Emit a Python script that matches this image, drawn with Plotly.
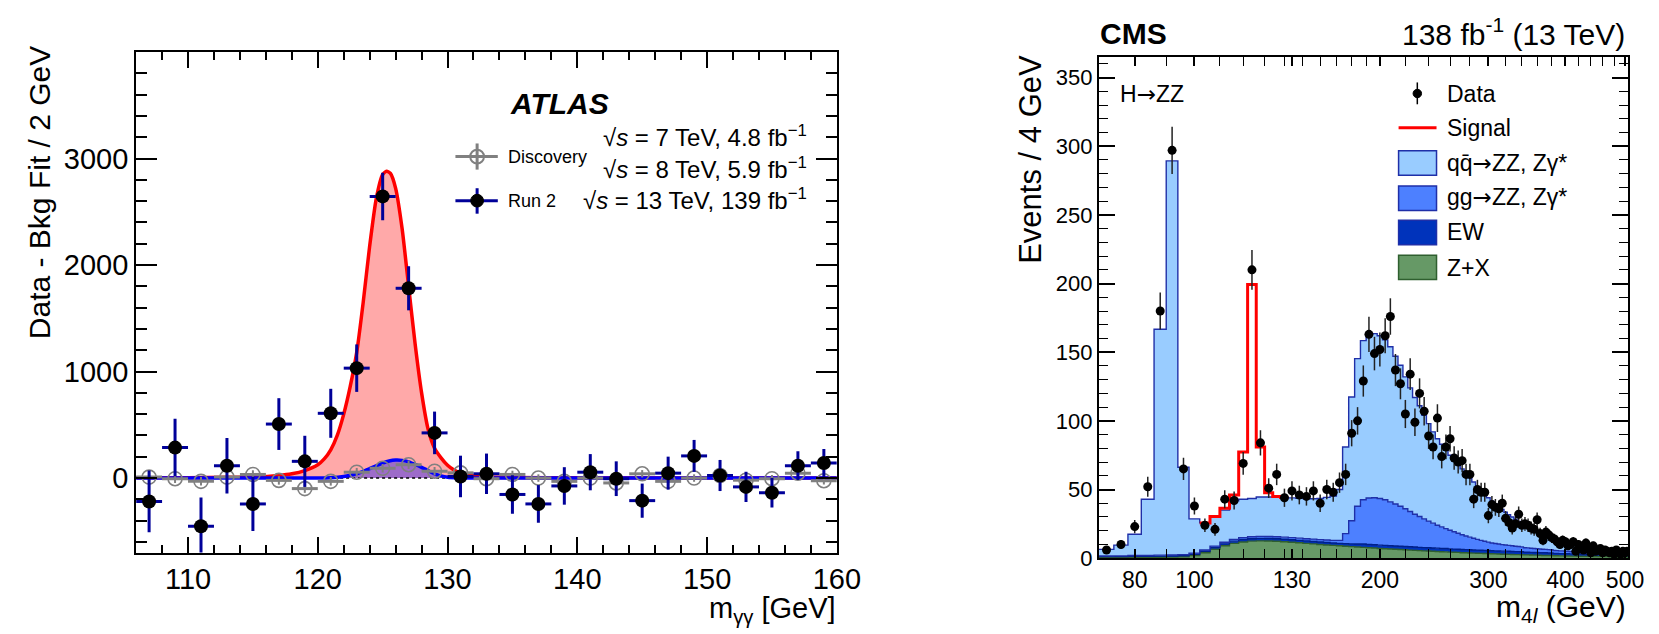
import numpy as np
import plotly.graph_objects as go

W, H = 1659, 634
FONT = "Liberation Sans, Arial, Helvetica, sans-serif"
ARROW = "<span style='font-family:DejaVu Sans'>→</span>"


def fx(px):
    return px / W


def fy(py):
    return 1 - py / H


# ---------------- ATLAS (left) : H -> gamma gamma ----------------
atlas_mass = [107, 109, 111, 113, 115, 117, 119, 121, 123, 125, 127, 129, 131, 133,
              135, 137, 139, 141, 143, 145, 147, 149, 151, 153, 155, 157, 159]
run2_y = [-220, 286, -452, 116, -243, 507, 157, 608, 1032, 2645, 1782, 424, 15, 40,
          -154, -243, -74, 55, -6, -212, 46, 208, 24, -83, -138, 116, 141]
run2_err = [290, 270, 270, 260, 255, 243, 240, 230, 223, 223, 207, 200, 195, 190,
            180, 177, 176, 170, 163, 160, 155, 150, 146, 142, 138, 135, 131]
disc_y = [9, -6, -31, 9, 34, -22, -99, -31, 55, 92, 125, 64, 49, -6,
          34, 0, -31, 0, -46, 40, -31, 0, 24, -20, -6, 46, -25]
disc_err = [40, 40, 40, 40, 40, 40, 40, 40, 40, 40, 40, 40, 40, 40,
            35, 35, 35, 35, 35, 35, 35, 35, 35, 35, 35, 35, 35]

# Run 2 signal + background fit (background subtracted)
run2_fit_x = [106, 110, 113, 115, 117, 118, 119, 120, 120.5, 121, 121.5, 122, 122.5, 123,
              123.5, 124, 124.5, 125, 125.3, 125.6, 126, 126.5, 127, 127.5, 128, 128.5,
              129, 129.5, 130, 130.5, 131, 132, 133, 135, 140, 160]
run2_fit_y = [2, 4, 7, 10, 25, 40, 70, 125, 180, 265, 400, 600, 860, 1180,
              1650, 2180, 2620, 2850, 2881, 2860, 2720, 2340, 1800, 1260, 800, 460,
              280, 190, 120, 75, 45, 20, 10, 5, 2, 0]
# Discovery fit
disc_fit_x = [106, 120, 121, 122, 123, 123.5, 124, 124.5, 125, 125.5, 126, 126.5, 127,
              127.5, 128, 128.5, 129, 129.5, 130, 131, 132, 160]
disc_fit_y = [0, 0, 3, 15, 40, 62, 88, 115, 140, 160, 169, 166, 152,
              128, 101, 70, 40, 20, 8, 2, 0, 0]
atlas_xrange = [106, 160]
atlas_yrange = [-700, 4000]
bkg_level = [0, 0]

# ---------------- CMS (right) : H -> ZZ -> 4l ----------------
cms_edges = list(range(70, 507, 4))        # 4 GeV bins, 70-506 GeV
cms_centers = [e + 2 for e in cms_edges[:-1]]

cms_data = [6, 10, 23, 52, 180, 297, 65, 38, 24, 21, 43, 42, 69, 210, 84, 51, 61, 44, 49, 46,
            45, 49, 40, 50, 48,
            55, 61, 91, 100, 129, 163, 149, 152, 162, 176, 137, 127, 105, 134, 99, 120, 107,
            89, 81, 102, 74, 81, 87, 73, 70, 71, 61, 61, 43, 50, 48, 48, 31,
            39, 37, 36, 40, 29, 26, 22, 25, 32, 24, 25, 24, 22, 21, 28, 18, 13, 19, 17, 15,
            14, 12, 10, 13, 12, 9, 10, 12, 5, 10, 8, 6, 11, 7, 4, 9, 5, 6, 7, 4,
            6, 5, 4, 5, 3, 6, 4, 3, 5, 4, 5]

cms_bkg_total = [6.4, 9.5, 17.4, 42.9, 166.7, 289.3, 66.2, 28.6, 25.7, 29.8, 35.0, 41.7, 42.9,
                 43.5, 44.5, 44.6, 44.5, 44.2, 43.9, 43.6, 43.4, 43.3, 43.5, 44.3, 45.3,
                 50, 81, 117.4, 145.3, 158.4, 163, 163.5, 162, 159, 154, 147, 140.5, 132, 124,
                 117, 111, 104, 98, 92, 87, 83, 79, 75, 71, 68, 65, 61.5, 58.5, 55.5, 52, 49,
                 46.5, 44,
                 41.5, 39.5, 37.5, 35.5, 33.5, 31.7, 30, 28.3, 26.7, 25.2, 23.8, 22.5, 21.2, 20,
                 18.9, 17.8, 16.8, 15.9, 15, 14.2, 13.4, 12.7, 12, 11.4, 11.0, 10.5, 10.0, 9.6,
                 9.2, 8.8, 8.4, 8.1, 7.8, 7.5, 7.2, 6.9, 6.7, 6.4, 6.2, 6.0, 5.8, 5.6, 5.4, 5.2,
                 5.1, 4.9, 4.8, 4.6, 4.5, 4.4, 4.3]

cms_zx = [0.3, 0.4, 0.5, 0.6, 0.7, 0.8, 1.0, 2.0, 4.0, 6.5, 9.0, 10.8, 11.8, 12.4, 12.6, 12.5,
          12.3, 12.0, 11.6, 11.2, 10.8, 10.4, 10.0, 9.6, 9.3,
          9.0, 8.7, 8.4, 8.1, 7.9, 7.6, 7.4, 7.1, 6.9, 6.7, 6.5, 6.3, 6.1, 5.9, 5.7, 5.5, 5.3,
          5.2, 5.0, 4.9, 4.7, 4.6, 4.4, 4.3, 4.2, 4.0, 3.9, 3.8, 3.7, 3.6, 3.5, 3.4, 3.3,
          3.2, 3.1, 3.0, 2.9, 2.9, 2.8, 2.7, 2.6, 2.6, 2.5, 2.4, 2.4, 2.3, 2.2, 2.2, 2.1, 2.0,
          2.0, 1.9, 1.9, 1.8, 1.8, 1.7, 1.7, 1.6, 1.6, 1.5, 1.5, 1.5, 1.4, 1.4, 1.4, 1.3, 1.3,
          1.3, 1.2, 1.2, 1.2, 1.1, 1.1, 1.1, 1.1, 1.0, 1.0, 1.0, 1.0, 0.9, 0.9, 0.9, 0.9, 0.9]

cms_ew = ([0.8] * 8 + [1.0, 1.2, 1.4, 1.6] + [1.8] * 13 +
          [1.8, 1.9, 2.0, 2.2] + [2.4] * 19 + [2.3] * 10 +
          [2.2] * 10 + [1.9] * 10 + [1.6] * 10 + [1.3] * 10 + [1.1] * 11)

cms_gg = [0.5, 0.5, 0.6, 0.6, 0.7, 0.7, 0.8, 0.9, 1.0, 1.1, 1.2, 1.3, 1.4, 1.4, 1.5, 1.5, 1.5,
          1.5, 1.6, 1.6, 1.6, 1.7, 1.7, 1.8, 1.9,
          2.2, 7.3, 16.9, 27.5, 32.2, 33.8, 34.2, 34.0, 33.2, 31.9, 30.6, 29.1, 27.5, 25.7,
          23.9, 22.4, 20.9, 19.4, 18.1, 16.7, 15.7, 14.5, 13.5, 12.7, 11.6, 10.8, 9.9, 9.2,
          8.5, 7.8, 7.2, 6.6, 6.1,
          5.7, 5.4, 5.1, 4.8, 4.5, 4.3, 4.1, 3.9, 3.7, 3.5, 3.3, 3.2, 3.0, 2.9, 2.8, 2.7, 2.6,
          2.5, 2.4, 2.3, 2.2, 2.1, 2.0, 2.0, 1.9, 1.8, 1.8, 1.7, 1.7, 1.6, 1.6, 1.5, 1.5, 1.4,
          1.4, 1.4, 1.3, 1.3, 1.3, 1.2, 1.2, 1.2, 1.1, 1.1, 1.1, 1.1, 1.0, 1.0, 1.0, 1.0, 1.0]

# qq->ZZ is the remainder up to the total background outline
cms_qq = list(np.array(cms_bkg_total) - np.array(cms_zx) - np.array(cms_ew) - np.array(cms_gg))

sig_lo_edges = [102, 106, 110, 114, 118, 122, 126, 130, 134, 138]
sig_vals = [0, 0.5, 1.3, 4.3, 34.5, 155.8, 36.5, 3.0, 0.5, 0]

# tick labels as printed in the reference (the "130" label sits at ~144 GeV there)
cms_xtick_pos = [80, 100, 144, 200, 300, 400, 500]
cms_xtick_text = ["80", "100", "130", "200", "300", "400", "500"]
cms_minor = [70, 90, 110, 120, 130, 140, 150, 160, 170, 180, 190, 220, 240, 260, 280,
             320, 340, 360, 380, 420, 440, 460, 480]
cms_long_tick = [100]

fig = go.Figure()

# ---------- ATLAS traces ----------
fig.add_trace(go.Scatter(x=run2_fit_x, y=run2_fit_y, mode="lines", fill="tozeroy",
                         fillcolor="#FFA9A9", line=dict(color="#FF0000", width=3.5, shape="spline",
                                                        smoothing=0.6),
                         xaxis="x", yaxis="y", hoverinfo="skip"))
fig.add_trace(go.Scatter(x=disc_fit_x, y=disc_fit_y, mode="none", fill="tozeroy",
                         fillcolor="#9D6CC9", line=dict(shape="spline", smoothing=0.6),
                         xaxis="x", yaxis="y", hoverinfo="skip"))
fig.add_trace(go.Scatter(x=atlas_xrange, y=bkg_level, mode="lines",
                         line=dict(color="black", width=1.5, dash="dot"),
                         xaxis="x", yaxis="y", hoverinfo="skip"))
fig.add_trace(go.Scatter(x=disc_fit_x, y=disc_fit_y, mode="lines",
                         line=dict(color="#0000FF", width=3.5, shape="spline", smoothing=0.6),
                         xaxis="x", yaxis="y", hoverinfo="skip"))
fig.add_trace(go.Scatter(x=atlas_mass, y=disc_y, mode="markers",
                         marker=dict(symbol="circle-open", size=14, color="#808080",
                                     line=dict(width=1.6, color="#808080")),
                         error_x=dict(type="constant", value=1, color="#808080", thickness=3, width=0),
                         error_y=dict(type="data", array=disc_err, color="#808080", thickness=2, width=0),
                         xaxis="x", yaxis="y"))
fig.add_trace(go.Scatter(x=atlas_mass, y=run2_y, mode="markers",
                         marker=dict(symbol="circle", size=14, color="black"),
                         error_x=dict(type="constant", value=1, color="#000099", thickness=3, width=0),
                         error_y=dict(type="data", array=run2_err, color="#000099", thickness=3, width=0),
                         xaxis="x", yaxis="y"))

# ---------- CMS traces ----------
def step(v):
    v = list(v)
    return v + [v[-1]]


stack = [
    ("Z+X", cms_zx, "#669966", "#2F5F2F"),
    ("EW", cms_ew, "#0033BB", "#00208A"),
    ("gg", cms_gg, "#4D80FF", "#1F2FA8"),
    ("qq", cms_qq, "#99CCFF", "#1F2FA8"),
]
for name, vals, fc, lc in stack:
    fig.add_trace(go.Scatter(x=cms_edges, y=step(vals), mode="lines", stackgroup="cms",
                             line=dict(shape="hv", color=lc, width=1.4), fillcolor=fc,
                             xaxis="x2", yaxis="y2", hoverinfo="skip", name=name))

sig_idx = [(e - cms_edges[0]) // 4 for e in sig_lo_edges]
sig_top = [cms_bkg_total[i] + s for i, s in zip(sig_idx, sig_vals)]
fig.add_trace(go.Scatter(x=sig_lo_edges + [sig_lo_edges[-1] + 4], y=step(sig_top), mode="lines",
                         line=dict(shape="hv", color="#FF0000", width=3),
                         xaxis="x2", yaxis="y2", hoverinfo="skip"))

fig.add_trace(go.Scatter(x=cms_centers, y=cms_data, mode="markers",
                         marker=dict(symbol="circle", size=9, color="black"),
                         error_y=dict(type="data", array=list(np.sqrt(cms_data)), color="#222222",
                                      thickness=1.5, width=0),
                         xaxis="x2", yaxis="y2"))

# ---------- axes ----------
common = dict(showline=True, linecolor="black", linewidth=2, mirror="allticks", ticks="inside",
              tickcolor="black", showgrid=False, zeroline=False)
cms_xrange = [np.log10(70), np.log10(506)]

fig.update_layout(
    width=W, height=H, autosize=False, showlegend=False,
    margin=dict(l=0, r=0, t=0, b=0),
    paper_bgcolor="white", plot_bgcolor="white",
    font=dict(family=FONT, color="black"),
    xaxis=dict(domain=[fx(130), fx(841)], range=atlas_xrange, anchor="y",
               tickvals=[110, 120, 130, 140, 150, 160], ticklen=16, tickwidth=2,
               tickfont=dict(size=29, family=FONT),
               minor=dict(ticks="inside", dtick=2, tick0=0, ticklen=8, tickwidth=1.5,
                          tickcolor="black"),
               **common),
    yaxis=dict(domain=[fy(556), fy(45)], range=atlas_yrange, anchor="x",
               tickvals=[0, 1000, 2000, 3000], ticklen=21, tickwidth=2,
               tickfont=dict(size=29, family=FONT),
               minor=dict(ticks="inside", dtick=200, tick0=0, ticklen=11, tickwidth=1.5,
                          tickcolor="black"),
               **common),
    xaxis2=dict(type="log", domain=[fx(1107), fx(1644)],
                range=cms_xrange, anchor="y2",
                tickvals=cms_xtick_pos, ticktext=cms_xtick_text,
                ticklen=9, tickwidth=1.5, tickfont=dict(size=23, family=FONT),
                minor=dict(ticks="inside", tickvals=cms_minor, ticklen=9, tickwidth=1.2,
                           tickcolor="black"),
                **common),
    xaxis3=dict(type="log", overlaying="x2", anchor="y2", range=cms_xrange,
                tickvals=cms_long_tick, ticktext=[""], ticks="inside", ticklen=17,
                tickwidth=1.5, tickcolor="black", mirror="ticks", showline=False,
                showgrid=False, zeroline=False, side="bottom"),
    yaxis2=dict(domain=[fy(561.7), fy(50)], range=[0, 365], anchor="x2",
                tickvals=[0, 50, 100, 150, 200, 250, 300, 350], ticklen=16, tickwidth=1.5,
                tickfont=dict(size=22, family=FONT),
                minor=dict(ticks="inside", dtick=10, tick0=0, ticklen=9, tickwidth=1.2,
                           tickcolor="black"),
                **common),
)


def ann(text, x, y, size, xanchor="left", yanchor="middle", angle=0):
    return dict(text=text, x=fx(x), y=fy(y), xref="paper", yref="paper", showarrow=False,
                xanchor=xanchor, yanchor=yanchor, textangle=angle,
                font=dict(size=size, family=FONT, color="black"))


annotations = [
    ann("<b><i>ATLAS</i></b>", 560, 97.5, 30, xanchor="center"),
    ann("√<i>s</i> = 7 TeV, 4.8 fb<sup>−1</sup>", 813, 131, 24, xanchor="right"),
    ann("√<i>s</i> = 8 TeV, 5.9 fb<sup>−1</sup>", 813, 163, 24, xanchor="right"),
    ann("√<i>s</i> = 13 TeV, 139 fb<sup>−1</sup>", 813, 195, 24, xanchor="right"),
    ann("Discovery", 505, 151.7, 18),
    ann("Run 2", 505, 196.7, 18),
    ann("Data - Bkg Fit / 2 GeV", 31.5, 189, 30, xanchor="center", angle=-90),
    ann("m<sub>γγ</sub> [GeV]", 842, 615, 29, xanchor="right"),
    # CMS
    ann("<b>CMS</b>", 1106, 26, 30),
    ann("138 fb<sup>-1</sup> (13 TeV)", 1643, 24, 30, xanchor="right"),
    ann("H" + ARROW + "ZZ", 1126, 88, 23),
    ann("Data", 1458, 87.3, 23),
    ann("Signal", 1458, 122.3, 23),
    ann("qq̄" + ARROW + "ZZ, Zγ*", 1458, 158.3, 23),
    ann("gg" + ARROW + "ZZ, Zγ*", 1458, 193.3, 23),
    ann("EW", 1458, 228.3, 23),
    ann("Z+X", 1458, 265, 23),
    ann("Events / 4 GeV", 1038, 154, 31, xanchor="center", angle=-90),
    ann("m<sub>4<i>l</i></sub> (GeV)", 1644, 613, 30, xanchor="right"),
]


def line(x0, y0, x1, y1, color, width):
    return dict(type="line", xref="paper", yref="paper", x0=fx(x0), y0=fy(y0), x1=fx(x1),
                y1=fy(y1), line=dict(color=color, width=width))


def circ(cx, cy, r, line_color, fill, width=1.5):
    return dict(type="circle", xref="paper", yref="paper", x0=fx(cx - r), x1=fx(cx + r),
                y0=fy(cy + r), y1=fy(cy - r), line=dict(color=line_color, width=width),
                fillcolor=fill)


def rect(x0, y0, x1, y1, fill, lc):
    return dict(type="rect", xref="paper", yref="paper", x0=fx(x0), x1=fx(x1), y0=fy(y1),
                y1=fy(y0), fillcolor=fill, line=dict(color=lc, width=1.5))


shapes = [
    line(454, 151.7, 497, 151.7, "#808080", 3),
    line(476, 138.3, 476, 165, "#808080", 3),
    circ(476, 151.7, 7, "#808080", "rgba(0,0,0,0)", 2),
    line(454, 196.7, 497, 196.7, "#000099", 3),
    line(476, 184, 476, 210, "#000099", 3),
    circ(476, 196.7, 6.5, "black", "black", 1),
    # CMS legend
    line(1430, 76, 1430, 98.3, "black", 1.5),
    circ(1430, 87.3, 4.3, "black", "black", 1),
    line(1411, 122.3, 1449.5, 122.3, "#FF0000", 3),
    rect(1411, 145.7, 1449.5, 170.7, "#99CCFF", "#1F2FA8"),
    rect(1411, 181.7, 1449.5, 206.7, "#4D80FF", "#1F2FA8"),
    rect(1411, 216.7, 1449.5, 241.7, "#0033BB", "#1F2FA8"),
    rect(1411, 252.3, 1449.5, 277.3, "#669966", "#2F5F2F"),
]

fig.update_layout(annotations=annotations, shapes=shapes)
fig.write_html("out.html")
